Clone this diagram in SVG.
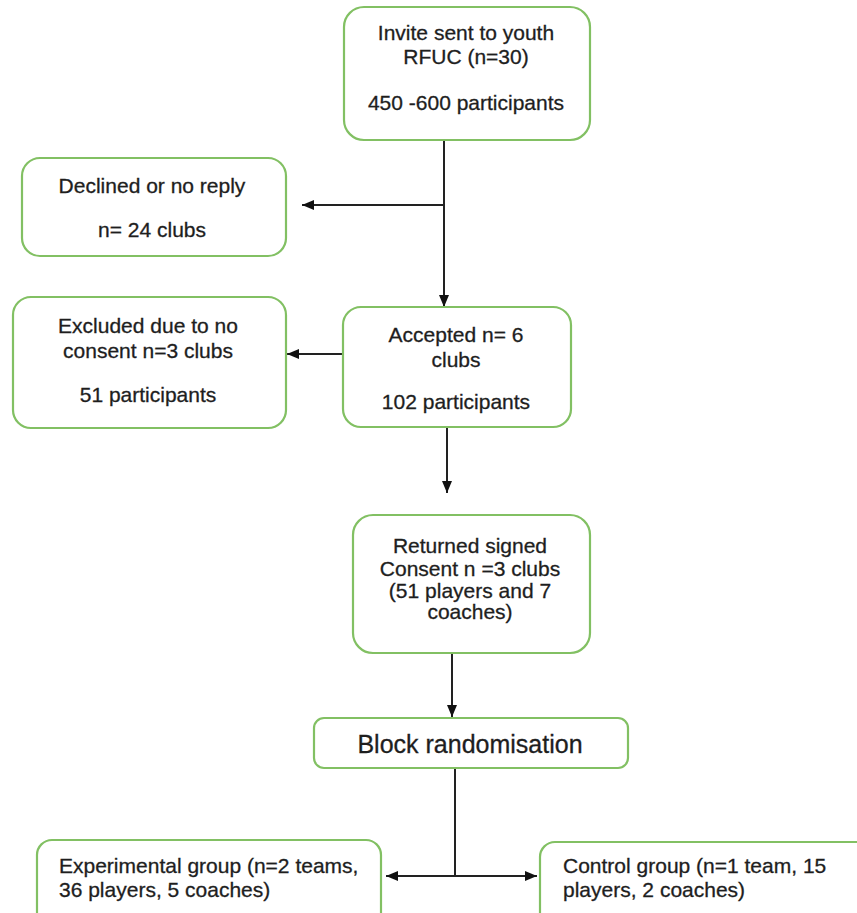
<svg xmlns="http://www.w3.org/2000/svg" width="857" height="913" viewBox="0 0 857 913">
<style>
.box{fill:#fff;stroke:#82c063;stroke-width:2.2}
.t{font-family:"Liberation Sans",Arial,sans-serif;font-size:21px;fill:#1e1e1e;stroke:#1e1e1e;stroke-width:0.3;text-anchor:middle}
.tl{text-anchor:start}
.big{font-size:25px}
.ln{fill:none;stroke:#222;stroke-width:2}
</style>
<defs>
<marker id="ah" viewBox="0 0 12 10" refX="12" refY="5" markerWidth="12" markerHeight="10" markerUnits="userSpaceOnUse" orient="auto-start-reverse">
<path d="M0,0 L12,5 L0,10 z" fill="#111"/>
</marker>
</defs>
<rect width="857" height="913" fill="#fff"/>
<g id="connectors">
<line class="ln" x1="444" y1="140" x2="444" y2="307" marker-end="url(#ah)"/>
<line class="ln" x1="444" y1="205" x2="302" y2="205" marker-end="url(#ah)"/>
<line class="ln" x1="343" y1="354" x2="287" y2="354" marker-end="url(#ah)"/>
<line class="ln" x1="447" y1="427" x2="447" y2="493" marker-end="url(#ah)"/>
<line class="ln" x1="452" y1="653" x2="452" y2="717" marker-end="url(#ah)"/>
<line class="ln" x1="455" y1="768" x2="455" y2="876"/>
<line class="ln" x1="386" y1="876" x2="537" y2="876" marker-start="url(#ah)" marker-end="url(#ah)"/>
</g>
<g id="invite">
<rect class="box" x="344" y="7" width="246" height="133" rx="20"/>
<text class="t" x="466" y="40">Invite sent to youth</text>
<text class="t" x="466" y="64">RFUC (n=30)</text>
<text class="t" x="466" y="110">450 -600 participants</text>
</g>
<g id="declined">
<rect class="box" x="22" y="158" width="264" height="98" rx="18"/>
<text class="t" x="152" y="193">Declined or no reply</text>
<text class="t" x="152" y="237">n= 24 clubs</text>
</g>
<g id="excluded">
<rect class="box" x="13" y="297" width="273" height="131" rx="18"/>
<text class="t" x="148" y="333">Excluded due to no</text>
<text class="t" x="148" y="358">consent n=3 clubs</text>
<text class="t" x="148" y="402">51 participants</text>
</g>
<g id="accepted">
<rect class="box" x="343" y="307" width="228" height="120" rx="18"/>
<text class="t" x="456" y="342">Accepted n= 6</text>
<text class="t" x="456" y="367">clubs</text>
<text class="t" x="456" y="409">102 participants</text>
</g>
<g id="returned">
<rect class="box" x="353" y="515" width="237" height="138" rx="20"/>
<text class="t" x="470" y="553">Returned signed</text>
<text class="t" x="470" y="576">Consent n =3 clubs</text>
<text class="t" x="470" y="598">(51 players and 7</text>
<text class="t" x="470" y="619">coaches)</text>
</g>
<g id="block">
<rect class="box" x="314" y="718" width="314" height="50" rx="10"/>
<text class="t big" x="470" y="753">Block randomisation</text>
</g>
<g id="experimental">
<rect class="box" x="37" y="840" width="344" height="90" rx="15"/>
<text class="t tl" x="59" y="873">Experimental group (n=2 teams,</text>
<text class="t tl" x="59" y="897">36 players, 5 coaches)</text>
</g>
<g id="control">
<rect class="box" x="540" y="842" width="340" height="90" rx="15"/>
<text class="t tl" x="563" y="873">Control group (n=1 team, 15</text>
<text class="t tl" x="563" y="897">players, 2 coaches)</text>
</g>
</svg>
